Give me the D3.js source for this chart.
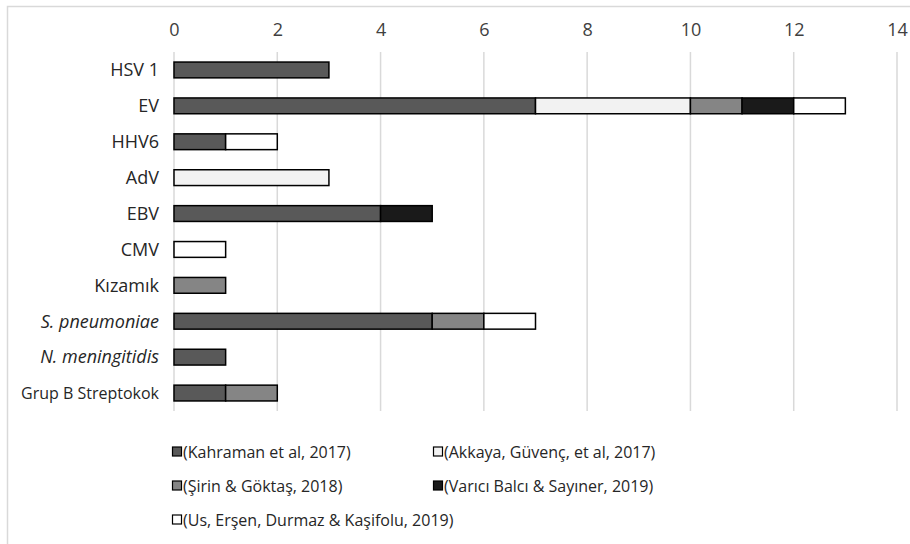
<!DOCTYPE html>
<html><head><meta charset="utf-8">
<script src="https://cdn.jsdelivr.net/npm/d3@7/dist/d3.min.js"></script>
<style>body{margin:0;background:#fff;} text{font-family:"Open Sans",sans-serif;}</style>
</head><body><svg id="c" width="910" height="544"></svg>
<script>
const categories = ["HSV 1","EV","HHV6","AdV","EBV","CMV","Kızamık","S. pneumoniae","N. meningitidis","Grup B Streptokok"];
const italicCats = ["S. pneumoniae","N. meningitidis"];
const seriesNames = ["(Kahraman et al, 2017)","(Akkaya, Güvenç, et al, 2017)","(Şirin & Göktaş, 2018)","(Varıcı Balcı & Sayıner, 2019)","(Us, Erşen, Durmaz & Kaşifolu, 2019)"];
const kahraman = [3,7,1,0,4,0,0,5,1,1];
const akkaya   = [0,3,0,3,0,0,0,0,0,0];
const sirin    = [0,1,0,0,0,0,1,1,0,1];
const varici   = [0,1,0,0,1,0,0,0,0,0];
const us       = [0,1,1,0,0,1,0,1,0,0];
const xTicks = [0,2,4,6,8,10,12,14];
const colors = ["#595959","#f2f2f2","#858585","#1a1a1a","#ffffff"];

const svg = d3.select("#c");
svg.append("path").attr("d","M7.5,544 V6.5 H910").attr("fill","none").attr("stroke","#d9d9d9").attr("stroke-width",1.5);

const x = d3.scaleLinear().domain([0,14]).range([174,897]);
const y = d3.scaleBand().domain(categories).range([52,411]).paddingInner(0.56).paddingOuter(0.28);

// gridlines
svg.append("g").selectAll("line").data(xTicks).join("line")
  .attr("x1",d=>x(d)).attr("x2",d=>x(d)).attr("y1",52).attr("y2",411)
  .attr("stroke","#d9d9d9").attr("stroke-width",1.5);

const xAxis = svg.append("g").attr("transform","translate(0,36)")
  .call(d3.axisTop(x).tickValues(xTicks).tickSize(0).tickPadding(0));
xAxis.select(".domain").remove();
xAxis.selectAll("text").attr("font-size",18).attr("fill","#404040").attr("font-family","Open Sans").attr("dy",0);

const table = categories.map((c,i)=>({cat:c, s0:kahraman[i], s1:akkaya[i], s2:sirin[i], s3:varici[i], s4:us[i]}));
const stack = d3.stack().keys(["s0","s1","s2","s3","s4"])(table);

svg.append("g").selectAll("g").data(stack).join("g").attr("fill",(d,i)=>colors[i])
  .selectAll("rect").data(d=>d.filter(p=>p[1]-p[0]>0)).join("rect")
  .attr("x",d=>x(d[0])).attr("width",d=>x(d[1])-x(d[0]))
  .attr("y",d=>y(d.data.cat)).attr("height",y.bandwidth())
  .attr("stroke","#000").attr("stroke-width",1.5);

// category labels
svg.append("g").selectAll("text").data(categories).join("text")
  .attr("x",159).attr("y",d=>y(d)+y.bandwidth()/2).attr("dy","0.35em")
  .attr("text-anchor","end")
  .attr("font-size",d=>d==="Grup B Streptokok"?16:18)
  .attr("font-style",d=>italicCats.includes(d)?"italic":"normal")
  .attr("fill","#262626").text(d=>d);

// legend
const legPos = [[172,452],[433,452],[172,486],[433,486],[172,520]];
const lg = svg.append("g").selectAll("g").data(seriesNames).join("g")
  .attr("transform",(d,i)=>`translate(${legPos[i][0]},${legPos[i][1]})`);
lg.append("rect").attr("x",0.5).attr("y",-5).attr("width",9).attr("height",9)
  .attr("fill",(d,i)=>colors[i]).attr("stroke","#000").attr("stroke-width",1.2);
lg.append("text").attr("x",11).attr("y",0).attr("dy","0.35em").attr("font-size",16)
  .attr("fill","#262626").text(d=>d);
</script></body></html>
